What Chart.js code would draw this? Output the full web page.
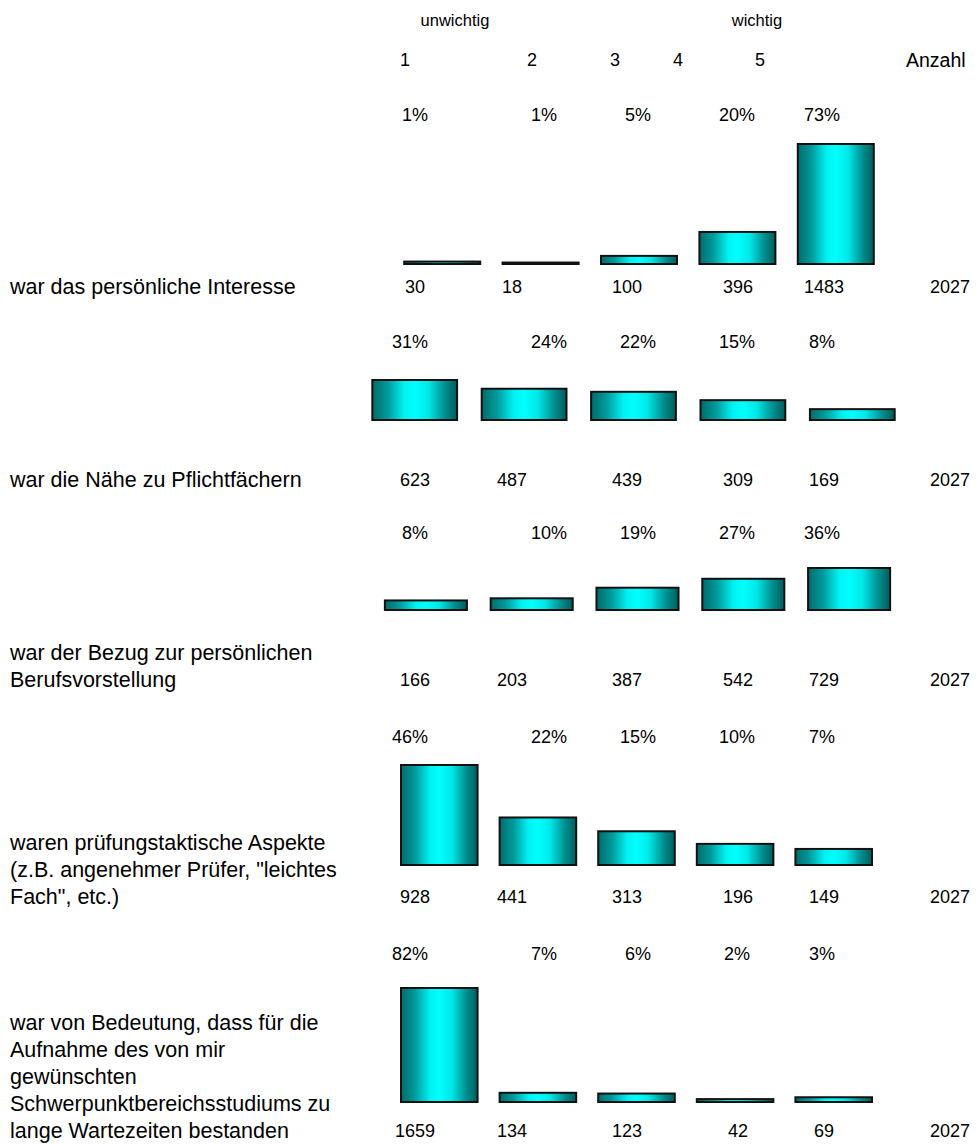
<!DOCTYPE html>
<html lang="de">
<head>
<meta charset="utf-8">
<title>Wahl des Schwerpunktbereichs</title>
<script src="https://cdn.jsdelivr.net/npm/chart.js@4/dist/chart.umd.min.js"></script>
<style>
  html, body { margin: 0; padding: 0; background: #fff; }
  #page {
    position: relative; width: 976px; height: 1145px; overflow: hidden;
    font-family: "Liberation Sans", Arial, sans-serif; color: #000;
  }
  .txt { position: absolute; white-space: nowrap; font-size: 18px; line-height: 26px; }
  .head { font-size: 16.5px; }
  .big { font-size: 19.5px; }
  .lbl { font-size: 21.5px; }
  canvas { position: absolute; }
</style>
</head>
<body>
<div id="page"></div>
<script>
// ---- data ----
const scalePoints = ["1", "2", "3", "4", "5"];

const interessePct   = [1, 1, 5, 20, 73];
const interesseCount = [30, 18, 100, 396, 1483];

const pflichtPct   = [31, 24, 22, 15, 8];
const pflichtCount = [623, 487, 439, 309, 169];

const berufPct   = [8, 10, 19, 27, 36];
const berufCount = [166, 203, 387, 542, 729];

const taktikPct   = [46, 22, 15, 10, 7];
const taktikCount = [928, 441, 313, 196, 149];

const wartezeitPct   = [82, 7, 6, 2, 3];
const wartezeitCount = [1659, 134, 123, 42, 69];

const totals = [2027, 2027, 2027, 2027, 2027];

const questions = [
  ["war das persönliche Interesse"],
  ["war die Nähe zu Pflichtfächern"],
  ["war der Bezug zur persönlichen", "Berufsvorstellung"],
  ["waren prüfungstaktische Aspekte", "(z.B. angenehmer Prüfer, \"leichtes", "Fach\", etc.)"],
  ["war von Bedeutung, dass für die", "Aufnahme des von mir", "gewünschten",
   "Schwerpunktbereichsstudiums zu", "lange Wartezeiten bestanden"],
];

const rows = [
  { pct: interessePct, counts: interesseCount },
  { pct: pflichtPct,   counts: pflichtCount },
  { pct: berufPct,     counts: berufCount },
  { pct: taktikPct,    counts: taktikCount },
  { pct: wartezeitPct, counts: wartezeitCount },
];

// ---- layout (each row is its own little chart, like the original sheet) ----
const PAGE_W = 976;
const LINE = 27;
const PAD = 3;
const rowBoxes = [
  { top: 144, bottom: 264,  center: 442,   pitch: 98.4,  barW: 76,   pctY: 115, lastY: 287 },
  { top: 380, bottom: 420,  center: 415,   pitch: 109.3, barW: 84.7, pctY: 342, lastY: 480 },
  { top: 568, bottom: 610,  center: 426,   pitch: 105.75, barW: 82,  pctY: 533, lastY: 680 },
  { top: 765, bottom: 865,  center: 438.8, pitch: 98.5,  barW: 76.5, pctY: 737, lastY: 897 },
  { top: 988, bottom: 1102, center: 438.8, pitch: 98.5,  barW: 76.5, pctY: 954, lastY: 1131 },
];
// text columns: [x, alignment]
const pctCols   = [[428, "right"], [531, "left"], [638, "center"], [737, "center"], [822, "center"]];
const countCols = [[415, "center"], [512, "center"], [627, "center"], [738, "center"], [824, "center"], [950, "center"]];
const headCols  = [[405, "center"], [532, "center"], [615, "center"], [678, "center"], [760, "center"]];

const page = document.getElementById("page");

function put(text, x, y, align, cls) {
  const el = document.createElement("div");
  el.className = "txt" + (cls ? " " + cls : "");
  el.textContent = text;
  el.style.top = (y - 13) + "px";
  if (align === "right") {
    el.style.right = (PAGE_W - x) + "px";
  } else {
    el.style.left = x + "px";
    if (align === "center") el.style.transform = "translateX(-50%)";
  }
  page.appendChild(el);
}

// header
put("unwichtig", 455, 20, "center", "head");
put("wichtig", 757, 20, "center", "head");
scalePoints.forEach((t, i) => put(t, headCols[i][0], 60, headCols[i][1]));
put("Anzahl", 906, 60, "left", "big");

// cylinder-like gradient, one per bar
function cylinderFill(ctx) {
  const chart = ctx.chart;
  const area = chart.chartArea;
  if (!area || ctx.dataIndex === undefined) return "#00dede";
  const x = chart.scales.x.getPixelForValue(ctx.dataIndex);
  const half = (area.width / scalePoints.length) * ctx.dataset.barPercentage / 2;
  const g = chart.ctx.createLinearGradient(x - half, 0, x + half, 0);
  g.addColorStop(0, "#006b6b");
  g.addColorStop(0.18, "#009a9a");
  g.addColorStop(0.38, "#00f2f2");
  g.addColorStop(0.5, "#00ffff");
  g.addColorStop(0.66, "#00e8e8");
  g.addColorStop(0.86, "#008c8c");
  g.addColorStop(1, "#005c5c");
  return g;
}

// black outline around each bar (also visible on very thin bars)
const outlinePlugin = {
  id: "outline",
  afterDatasetsDraw(chart) {
    const c = chart.ctx;
    c.save();
    c.strokeStyle = "#111";
    c.lineWidth = 2;
    chart.getDatasetMeta(0).data.forEach(bar => {
      const { x, y, base, width } = bar.getProps(["x", "y", "base", "width"], true);
      c.strokeRect(x - width / 2, y, width, base - y);
    });
    c.restore();
  }
};

rows.forEach((r, i) => {
  const box = rowBoxes[i];

  // question text
  const lines = questions[i];
  lines.forEach((ln, k) => put(ln, 10, box.lastY - (lines.length - 1 - k) * LINE, "left", "lbl"));

  // percentages above, counts below
  r.pct.forEach((p, k) => put(p + "%", pctCols[k][0], box.pctY, pctCols[k][1]));
  r.counts.concat([totals[i]]).forEach((n, k) => put(String(n), countCols[k][0], box.lastY, countCols[k][1]));

  const cv = document.createElement("canvas");
  cv.width = Math.round(box.pitch * scalePoints.length);
  cv.height = Math.round(box.bottom - box.top + PAD * 2);
  cv.style.left = (box.center - box.pitch / 2) + "px";
  cv.style.top = (box.top - PAD) + "px";
  page.appendChild(cv);

  new Chart(cv, {
    type: "bar",
    data: {
      labels: scalePoints,
      datasets: [{
        data: r.counts,
        backgroundColor: cylinderFill,
        borderWidth: 0,
        categoryPercentage: 1,
        barPercentage: box.barW / box.pitch,
      }],
    },
    options: {
      responsive: false,
      animation: false,
      devicePixelRatio: 1,
      layout: { padding: { top: PAD, bottom: PAD, left: 0, right: 0 } },
      scales: {
        x: { display: false },
        y: { display: false, min: 0, max: Math.max(...r.counts) },
      },
      plugins: { legend: { display: false }, tooltip: { enabled: false } },
    },
    plugins: [outlinePlugin],
  });
});
</script>
</body>
</html>
